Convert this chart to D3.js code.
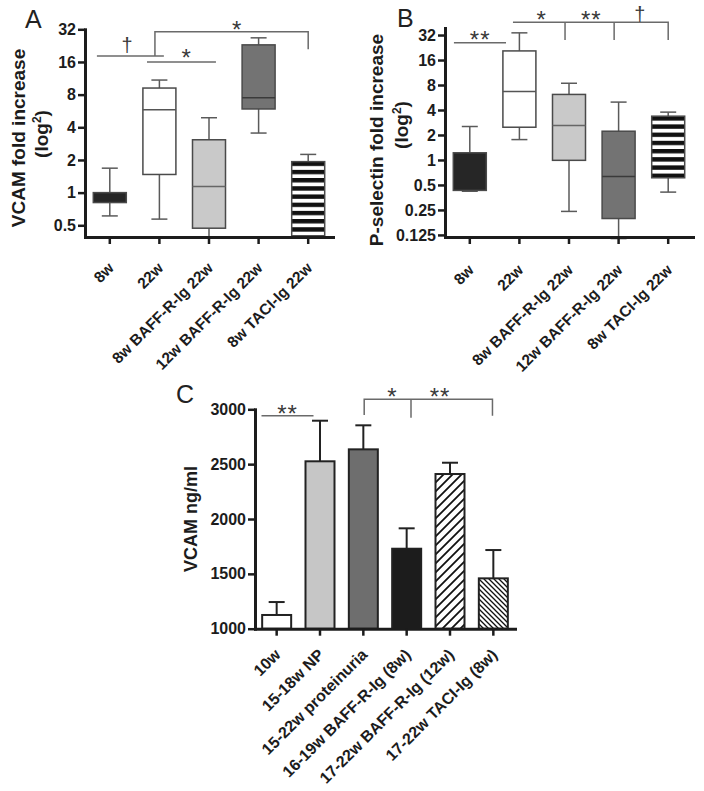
<!DOCTYPE html>
<html><head><meta charset="utf-8">
<script src="https://cdn.jsdelivr.net/npm/d3@7"></script>
<style>body{margin:0;background:#fff} svg{display:block}</style>
</head><body><script>
// ---------------- data ----------------
const catsAB = ["8w","22w","8w BAFF-R-Ig 22w","12w BAFF-R-Ig 22w","8w TACI-Ig 22w"];
// Panel A: VCAM fold increase (box plot: whisker low, Q1, median, Q3, whisker high)
const vcamLow  = [0.61, 0.57, 0.38, 3.54, 0.39];
const vcamQ1   = [0.81, 1.47, 0.47, 5.9, 0.40];
const vcamMed  = [0.9, 5.8, 1.14, 7.5, 1.0];
const vcamQ3   = [1.0, 9.2, 3.07, 23, 1.93];
const vcamHigh = [1.68, 10.9, 4.9, 26.7, 2.25];
// Panel B: P-selectin fold increase
const pselLow  = [0.42, 1.76, 0.24, 0.113, 0.41];
const pselQ1   = [0.43, 2.48, 0.99, 0.197, 0.61];
const pselMed  = [0.6, 6.7, 2.6, 0.63, 1.5];
const pselQ3   = [1.22, 20.6, 6.16, 2.22, 3.37];
const pselHigh = [2.53, 34, 8.4, 4.98, 3.77];
const ticksA = [0.5, 1, 2, 4, 8, 16, 32];
const ticksB = [0.125, 0.25, 0.5, 1, 2, 4, 8, 16, 32];
// Panel C: VCAM ng/ml (mean + SEM)
const catsC = ["10w","15-18w NP","15-22w proteinuria","16-19w BAFF-R-Ig (8w)","17-22w BAFF-R-Ig (12w)","17-22w TACI-Ig (8w)"];
const vcamMean = [1125, 2526, 2635, 1729, 2410, 1459];
const vcamSem  = [118, 370, 219, 186, 103, 258];
const ticksC = [1000, 1500, 2000, 2500, 3000];
// significance annotations: polylines in (category index, value); labels [text, index, value, dy]
const sigPathsA = [[[-0.26,18.2],[1.09,18.2]], [[0.75,16],[2.14,16]], [[0.91,18.2],[0.91,30.4],[4,30.4],[4,21]]];
const sigTextA  = [["†",0.35,18.2,-4], ["*",1.54,16,4], ["*",2.56,30.4,6]];
const sigPathsB = [[[-0.32,25.9],[0.73,25.9]], [[0.87,45.5],[4,45.5],[4,27.9]], [[1.92,45.5],[1.92,27.9]], [[2.91,45.5],[2.91,27.9]]];
const sigTextB  = [["**",0.21,25.9,5], ["*",1.44,45.5,6], ["**",2.45,45.5,6], ["†",3.43,45.5,-1]];
const sigPathsC = [[[-0.35,2942],[0.85,2942]], [[2.02,2948],[2.02,3091],[4.98,3091],[4.98,2942]], [[3.10,3091],[3.10,2923]]];
const sigTextC  = [["**",0.25,2942,6], ["*",2.66,3091,6], ["**",3.77,3091,6]];

// ---------------- setup ----------------
const W = 704, H = 791;
const FONT = "Arial, 'Liberation Sans', Helvetica, sans-serif";
const INK = "#1c1c1c";
const svg = d3.select("body").append("svg").attr("width", W).attr("height", H)
  .style("font-family", FONT);
const defs = svg.append("defs");

const xA = d3.scaleBand().domain(catsAB).range([85, 333]);
const yA = d3.scaleLog().base(2).domain([0.39, 32]).range([237, 29.3]);
const xB = d3.scaleBand().domain(catsAB).range([445, 693]);
const yB = d3.scaleLog().base(2).domain([0.118, 38.9]).range([237, 28]);
const xC = d3.scaleBand().domain(catsC).range([255, 515]);
const yC = d3.scaleLinear().domain([1000, 3000]).range([628.7, 409.3]);

function stripePattern(id, y0) {
  const p = defs.append("pattern").attr("id", id).attr("patternUnits", "userSpaceOnUse")
    .attr("width", 8).attr("height", 8.2).attr("y", y0);
  p.append("rect").attr("width", 8).attr("height", 8.2).attr("fill", "#fff");
  p.append("rect").attr("width", 8).attr("height", 4.4).attr("fill", "#111");
}
stripePattern("stripesA", yA(vcamQ3[4]));
stripePattern("stripesB", yB(pselQ3[4]));
const hf = defs.append("pattern").attr("id", "hatchF").attr("patternUnits", "userSpaceOnUse")
  .attr("width", 9).attr("height", 9);
hf.append("rect").attr("width", 9).attr("height", 9).attr("fill", "#fff");
hf.append("path").attr("d", "M-2,2 L2,-2 M0,9 L9,0 M7,11 L11,7").attr("stroke", "#111").attr("stroke-width", 1.8);
const hb = defs.append("pattern").attr("id", "hatchB").attr("patternUnits", "userSpaceOnUse")
  .attr("width", 5).attr("height", 5);
hb.append("rect").attr("width", 5).attr("height", 5).attr("fill", "#fff");
hb.append("path").attr("d", "M-1,-1 L6,6 M-1,4 L1,6 M4,-1 L6,1").attr("stroke", "#111").attr("stroke-width", 1.3);

const fillsAB = ["#262626", "#ffffff", "#c9c9c9", "#737373", null];
const medColAB = [null, "#555", "#666", "#3a3a3a", null];
const fillsC = ["#ffffff", "#c6c6c6", "#6e6e6e", "#1c1c1c", "url(#hatchF)", "url(#hatchB)"];

function idxX(x, i) { return x(x.domain()[0]) + x.bandwidth() / 2 + i * x.step(); }

function drawBoxes(x, y, lo, q1, med, q3, hi, stripeId) {
  const g = svg.append("g");
  catsAB.forEach((c, i) => {
    const cx = x(c) + x.bandwidth() / 2, bw = 33, cw = 16;
    const wcol = "#5a5a5a";
    g.append("line").attr("x1", cx).attr("x2", cx).attr("y1", y(hi[i])).attr("y2", y(q3[i])).attr("stroke", wcol).attr("stroke-width", 1.5);
    g.append("line").attr("x1", cx).attr("x2", cx).attr("y1", y(lo[i])).attr("y2", y(q1[i])).attr("stroke", wcol).attr("stroke-width", 1.5);
    [hi[i], lo[i]].forEach(v => g.append("line").attr("x1", cx - cw / 2).attr("x2", cx + cw / 2)
      .attr("y1", y(v)).attr("y2", y(v)).attr("stroke", wcol).attr("stroke-width", 1.5));
    const f = fillsAB[i] || `url(#${stripeId})`;
    g.append("rect").attr("x", cx - bw / 2).attr("width", bw).attr("y", y(q3[i])).attr("height", y(q1[i]) - y(q3[i]))
      .attr("fill", f).attr("stroke", "#4a4a4a").attr("stroke-width", 1.5);
    if (medColAB[i]) g.append("line").attr("x1", cx - bw / 2).attr("x2", cx + bw / 2).attr("y1", y(med[i])).attr("y2", y(med[i]))
      .attr("stroke", medColAB[i]).attr("stroke-width", 1.5);
  });
}

function drawAxes(x, y, ticks, xfs, xdy) {
  const g = svg.append("g");
  const y0 = y.range()[0];
  const gx = g.append("g").attr("transform", `translate(0,${y0})`)
    .call(d3.axisBottom(x).tickSize(7).tickSizeOuter(0));
  gx.attr("font-family", null).attr("font-size", null);
  gx.selectAll(".tick text").remove();
  gx.selectAll(".tick").append("text")
    .attr("transform", `translate(5,${xdy}) rotate(-45)`).attr("text-anchor", "end")
    .attr("fill", INK).attr("font-size", xfs).attr("font-weight", "bold").attr("font-family", FONT)
    .text(d => d);
  const gy = g.append("g").attr("transform", `translate(${x.range()[0]},0)`)
    .call(d3.axisLeft(y).tickValues(ticks).tickFormat(d => String(d)).tickSize(7).tickSizeOuter(0).tickPadding(2));
  gy.attr("font-family", null).attr("font-size", null);
  gy.selectAll(".tick text").attr("fill", INK).attr("font-size", 16).attr("font-weight", "bold").attr("font-family", FONT);
  [gx, gy].forEach(a => {
    a.select(".domain").attr("stroke", INK).attr("stroke-width", 3).attr("stroke-linecap", "square");
    a.selectAll(".tick line").attr("stroke", INK).attr("stroke-width", 2.5);
  });
  return gx;
}

function drawSig(x, y, paths, texts) {
  const g = svg.append("g");
  const line = d3.line().x(d => idxX(x, d[0])).y(d => y(d[1]));
  paths.forEach(p => g.append("path").attr("d", line(p)).attr("fill", "none").attr("stroke", "#6a6a6a").attr("stroke-width", 1.5));
  texts.forEach(([t, i, v, dy]) => {
    g.append("text").attr("x", idxX(x, i)).attr("y", y(v) + dy).attr("text-anchor", "middle")
      .attr("fill", "#3a3a3a").attr("font-size", t === "†" ? 20 : 24)
      .attr("letter-spacing", t === "**" ? 1 : 0).text(t);
  });
}

function yLabel(main, cx1, cy1, cx2, cy2, fs) {
  svg.append("text").attr("transform", `translate(${cx1},${cy1}) rotate(-90)`).attr("text-anchor", "middle")
    .attr("fill", INK).attr("font-size", fs).attr("font-weight", "bold").text(main);
  if (cx2 != null) {
    const t = svg.append("text").attr("transform", `translate(${cx2},${cy2}) rotate(-90)`).attr("text-anchor", "middle")
      .attr("fill", INK).attr("font-size", fs).attr("font-weight", "bold");
    t.append("tspan").text("(log");
    t.append("tspan").attr("dy", -7).attr("font-size", 12).text("2");
    t.append("tspan").attr("dy", 7).text(")");
  }
}
function title(t, x, y) {
  svg.append("text").attr("x", x).attr("y", y).attr("fill", "#222").attr("font-size", 25).text(t);
}

// ---------------- Panel A ----------------
drawBoxes(xA, yA, vcamLow, vcamQ1, vcamMed, vcamQ3, vcamHigh, "stripesA");
drawSig(xA, yA, sigPathsA, sigTextA);
drawAxes(xA, yA, ticksA, 15.5, 32);
yLabel("VCAM fold increase", 25, 138, 48, 134, 19);
title("A", 25, 28);

// ---------------- Panel B ----------------
drawBoxes(xB, yB, pselLow, pselQ1, pselMed, pselQ3, pselHigh, "stripesB");
drawSig(xB, yB, sigPathsB, sigTextB);
drawAxes(xB, yB, ticksB, 15.5, 34);
yLabel("P-selectin fold increase", 383, 140, 408, 125, 19);
title("B", 397, 27);

// ---------------- Panel C ----------------
const gC = svg.append("g");
catsC.forEach((c, i) => {
  const cx = xC(c) + xC.bandwidth() / 2, bw = 29, cw = 16;
  const top = yC(vcamMean[i] + vcamSem[i]);
  gC.append("line").attr("x1", cx).attr("x2", cx).attr("y1", yC(vcamMean[i])).attr("y2", top).attr("stroke", "#222").attr("stroke-width", 2);
  gC.append("line").attr("x1", cx - cw / 2).attr("x2", cx + cw / 2).attr("y1", top).attr("y2", top).attr("stroke", "#222").attr("stroke-width", 2);
  gC.append("rect").attr("x", cx - bw / 2).attr("width", bw).attr("y", yC(vcamMean[i]))
    .attr("height", yC.range()[0] - yC(vcamMean[i])).attr("fill", fillsC[i]).attr("stroke", "#222").attr("stroke-width", 2);
});
drawSig(xC, yC, sigPathsC, sigTextC);
drawAxes(xC, yC, ticksC, 16, 27);
yLabel("VCAM ng/ml", 197, 519, null, null, 18);
title("C", 176, 403);
</script></body></html>
